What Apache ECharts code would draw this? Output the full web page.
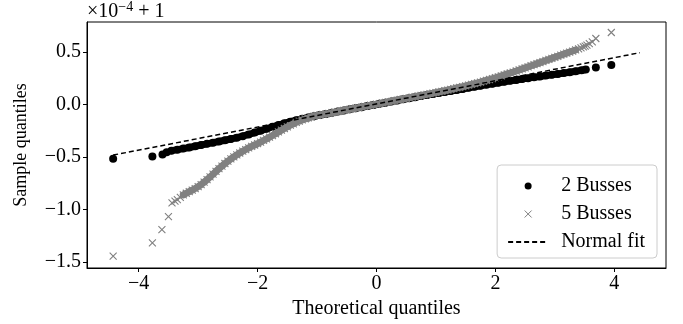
<!DOCTYPE html>
<html>
<head>
<meta charset="utf-8">
<script src="https://cdn.jsdelivr.net/npm/echarts@6/dist/echarts.min.js"></script>
<style>html,body{margin:0;padding:0;background:#fff}#c{width:683px;height:324px}</style>
</head>
<body>
<div id="c"></div>
<script>
// Theoretical quantile (x) and sample quantile (y, in units of 1e-4, offset +1)
const busses2 = [
  [-4.43,-0.517],[-3.77,-0.495],[-3.60,-0.476],[-3.53,-0.455],
  [-3.45,-0.440],[-3.35,-0.430],[-3.25,-0.420],[-3.15,-0.410],[-3.05,-0.398],
  [-2.95,-0.386],[-2.85,-0.375],[-2.75,-0.364],[-2.65,-0.353],[-2.55,-0.341],
  [-2.45,-0.329],[-2.35,-0.316],[-2.25,-0.302],[-2.15,-0.286],[-2.05,-0.268],
  [-1.95,-0.250],[-1.85,-0.232],[-1.75,-0.213],[-1.65,-0.196],[-1.55,-0.180],
  [-1.45,-0.164],[-1.35,-0.150],[-1.25,-0.137],[-1.15,-0.124],[-1.05,-0.112],
  [-0.95,-0.101],[-0.85,-0.090],[-0.75,-0.079],[-0.65,-0.068],[-0.55,-0.058],
  [-0.45,-0.047],[-0.35,-0.036],[-0.25,-0.026],[-0.15,-0.015],[-0.05,-0.005],
  [0.05,0.006],[0.15,0.016],[0.25,0.027],[0.35,0.037],[0.45,0.048],
  [0.55,0.058],[0.65,0.068],[0.75,0.079],[0.85,0.089],[0.95,0.099],
  [1.05,0.109],[1.15,0.118],[1.25,0.128],[1.35,0.137],[1.45,0.147],
  [1.55,0.158],[1.65,0.168],[1.75,0.178],[1.85,0.188],[1.95,0.197],
  [2.05,0.206],[2.15,0.215],[2.25,0.224],[2.35,0.233],[2.45,0.242],
  [2.55,0.250],[2.65,0.258],[2.75,0.266],[2.85,0.274],[2.95,0.282],
  [3.05,0.290],[3.15,0.298],[3.25,0.306],[3.35,0.315],[3.45,0.324],
  [3.52,0.332],[3.69,0.352],[3.95,0.374]
];
const busses5 = [
  [-4.43,-1.443],[-3.77,-1.316],[-3.61,-1.190],[-3.50,-1.067],[-3.44,-0.937],
  [-3.39,-0.920],[-3.35,-0.905],[-3.30,-0.885],
  [-3.25,-0.860],[-3.20,-0.845],[-3.15,-0.830],[-3.10,-0.815],[-3.05,-0.800],
  [-3.00,-0.782],[-2.95,-0.762],[-2.90,-0.740],[-2.85,-0.716],[-2.80,-0.690],
  [-2.75,-0.664],[-2.70,-0.637],[-2.65,-0.611],[-2.60,-0.586],[-2.55,-0.562],
  [-2.50,-0.540],[-2.45,-0.519],[-2.40,-0.499],[-2.35,-0.480],[-2.30,-0.462],
  [-2.25,-0.445],[-2.20,-0.429],[-2.15,-0.414],[-2.10,-0.400],[-2.05,-0.386],
  [-2.00,-0.372],[-1.95,-0.358],[-1.90,-0.343],[-1.85,-0.328],[-1.80,-0.312],
  [-1.75,-0.296],[-1.70,-0.279],[-1.65,-0.262],[-1.60,-0.245],[-1.55,-0.229],
  [-1.50,-0.213],[-1.45,-0.198],[-1.40,-0.184],[-1.35,-0.171],[-1.30,-0.159],
  [-1.25,-0.148],[-1.20,-0.138],[-1.15,-0.129],[-1.10,-0.120],[-1.05,-0.112],
  [-1.00,-0.105],[-0.95,-0.100],[-0.90,-0.095],[-0.85,-0.090],[-0.80,-0.085],
  [-0.75,-0.079],[-0.70,-0.074],[-0.65,-0.068],[-0.60,-0.063],[-0.55,-0.057],
  [-0.50,-0.052],[-0.45,-0.047],[-0.40,-0.041],[-0.35,-0.036],[-0.30,-0.030],
  [-0.25,-0.025],[-0.20,-0.019],[-0.15,-0.014],[-0.10,-0.008],[-0.05,-0.003],
  [0.00,0.003],[0.05,0.008],[0.10,0.014],[0.15,0.019],[0.20,0.025],
  [0.25,0.030],[0.30,0.036],[0.35,0.041],[0.40,0.047],[0.45,0.052],
  [0.50,0.058],[0.55,0.063],[0.60,0.069],[0.65,0.074],[0.70,0.080],
  [0.75,0.085],[0.80,0.091],[0.85,0.096],[0.90,0.102],[0.95,0.107],
  [1.00,0.113],[1.05,0.119],[1.10,0.125],[1.15,0.131],[1.20,0.137],
  [1.25,0.144],[1.30,0.150],[1.35,0.157],[1.40,0.163],[1.45,0.170],
  [1.50,0.177],[1.55,0.184],[1.60,0.191],[1.65,0.198],[1.70,0.205],
  [1.75,0.213],[1.80,0.221],[1.85,0.229],[1.90,0.237],[1.95,0.245],
  [2.00,0.254],[2.05,0.263],[2.10,0.272],[2.15,0.281],[2.20,0.290],
  [2.25,0.299],[2.30,0.308],[2.35,0.318],[2.40,0.328],[2.45,0.338],
  [2.50,0.348],[2.55,0.358],[2.60,0.368],[2.65,0.378],[2.70,0.388],
  [2.75,0.398],[2.80,0.408],[2.85,0.418],[2.90,0.428],[2.95,0.438],
  [3.00,0.448],[3.05,0.458],[3.10,0.468],[3.15,0.478],[3.20,0.488],
  [3.25,0.498],[3.30,0.508],[3.35,0.518],[3.40,0.528],[3.44,0.537],
  [3.48,0.547],[3.51,0.555],[3.54,0.564],[3.58,0.578],[3.63,0.595],
  [3.69,0.627],[3.95,0.684]
];
const normalFit = [[-4.43,-0.482],[4.43,0.492]];
const xTicks = [-4,-2,0,2,4];
const yTicks = [-1.5,-1.0,-0.5,0.0,0.5];
const seriesNames = ['2 Busses','5 Busses','Normal fit'];

// the densely overlapping middle parts (thousands of points) render as a solid band
const dense2 = busses2.slice(4, busses2.length - 2);
const dense5 = busses5.slice(8, busses5.length - 9);

const FONT = '"Liberation Serif", "DejaVu Serif", serif';
const fmtMinus = s => s.replace('-', '\u2212');
const crossPath = 'path://M0,0L10,10M10,0L0,10';
const GRAY = '#808080';

const chart = echarts.init(document.getElementById('c'), null, {renderer: 'canvas'});
chart.setOption({
  animation: false,
  backgroundColor: '#fff',
  grid: {left: 87, right: 17, top: 22, bottom: 56, show: true, borderColor: '#000', borderWidth: 1},
  xAxis: {
    type: 'value', min: -4.87, max: 4.87,
    name: 'Theoretical quantiles', nameLocation: 'middle', nameGap: 28,
    nameTextStyle: {fontFamily: FONT, fontSize: 20, color: '#000'},
    splitLine: {show: false},
    axisLine: {onZero: false, lineStyle: {color: '#000', width: 1}},
    axisTick: {length: 4, lineStyle: {color: '#000'}, customValues: xTicks},
    axisLabel: {customValues: xTicks, fontFamily: FONT, fontSize: 20, color: '#000', margin: 6,
      formatter: v => fmtMinus(String(v))}
  },
  yAxis: {
    type: 'value', min: -1.556, max: 0.784,
    name: 'Sample quantiles', nameLocation: 'middle', nameGap: 57,
    nameTextStyle: {fontFamily: FONT, fontSize: 18, color: '#000'},
    splitLine: {show: false},
    axisLine: {show: true, onZero: false, lineStyle: {color: '#000', width: 1}},
    axisTick: {show: true, length: 4, lineStyle: {color: '#000'}, customValues: yTicks},
    axisLabel: {customValues: yTicks, fontFamily: FONT, fontSize: 20, color: '#000', margin: 6,
      formatter: v => fmtMinus(v.toFixed(1))}
  },
  legend: {
    orient: 'vertical', right: 26, bottom: 66,
    backgroundColor: '#fff', borderColor: '#cccccc', borderWidth: 1, borderRadius: 4,
    padding: [11, 12, 6, 10], itemGap: 8, itemWidth: 40, itemHeight: 7,
    textStyle: {fontFamily: FONT, fontSize: 20, color: '#000', padding: [0, 0, 0, 8]},
    data: [
      {name: seriesNames[0], icon: 'circle'},
      {name: seriesNames[1], icon: crossPath, itemStyle: {color: 'rgba(0,0,0,0)', borderColor: GRAY, borderWidth: 1}},
      {name: seriesNames[2], itemStyle: {opacity: 0}}
    ]
  },
  graphic: [{
    type: 'text', left: 87, top: 0,
    style: {
      text: '{a|\u00d710}{s|\u22124}{a| + 1}',
      rich: {
        a: {fontFamily: FONT, fontSize: 20, fill: '#000', verticalAlign: 'bottom'},
        s: {fontFamily: FONT, fontSize: 14, fill: '#000', verticalAlign: 'top', padding: [0, 0, 8, 0]}
      }
    }
  }],
  series: [
    {
      name: seriesNames[0], type: 'scatter', data: busses2,
      symbol: 'circle', symbolSize: 8,
      itemStyle: {color: '#000', opacity: 1}, z: 2
    },
    {
      name: seriesNames[1], type: 'scatter', data: busses5,
      symbol: crossPath, symbolSize: 7,
      itemStyle: {color: 'rgba(0,0,0,0)', borderColor: GRAY, borderWidth: 1.1, opacity: 1}, z: 4
    },
    {
      name: seriesNames[2], type: 'line', data: normalFit,
      symbol: 'none', showSymbol: false,
      lineStyle: {color: '#000', width: 1.5, type: [5, 3]},
      itemStyle: {color: '#000'}, z: 5
    },
    {
      name: 'band2', type: 'line', data: dense2,
      symbol: 'none', showSymbol: false, silent: true,
      lineStyle: {color: '#000', width: 7, cap: 'round', join: 'round'}, z: 1
    },
    {
      name: 'band5', type: 'line', data: dense5,
      symbol: 'none', showSymbol: false, silent: true,
      lineStyle: {color: GRAY, width: 7, cap: 'round', join: 'round'}, z: 3
    }
  ]
});
</script>
</body>
</html>
